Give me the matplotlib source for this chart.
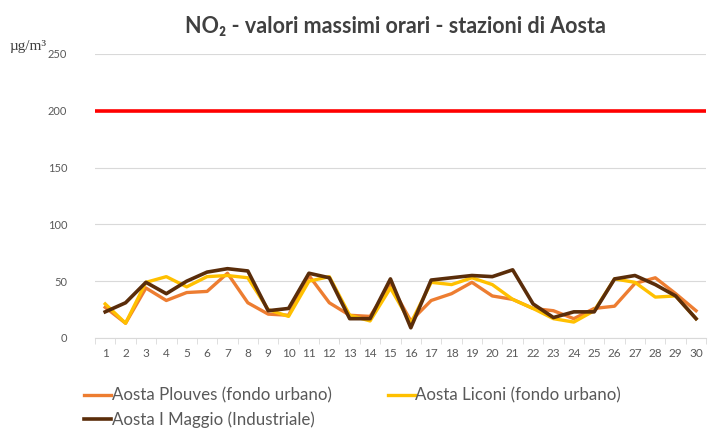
import numpy as np
from matplotlib import pyplot as plt

# days of the month
days = list(range(1, 31))

plouves = [27, 13, 44, 33, 40, 41, 57, 31, 21, 20, 55, 31, 20, 19, 47,
           15, 33, 39, 49, 37, 34, 26, 24, 17, 26, 28, 48, 53, 39, 24]
liconi = [30, 13, 49, 54, 45, 54, 55, 53, 25, 19, 50, 54, 20, 15, 44,
          13, 49, 47, 53, 47, 34, 26, 17, 14, 24, 52, 49, 36, 37, 17]
maggio = [23, 31, 49, 39, 50, 58, 61, 59, 24, 26, 57, 53, 17, 17, 52,
          9, 51, 53, 55, 54, 60, 30, 18, 23, 23, 52, 55, 47, 37, 17]
limit_value = 200

series_names = ['Aosta Plouves (fondo urbano)', 'Aosta Liconi (fondo urbano)',
                'Aosta I Maggio (Industriale)']
series_colors = ['#ED7D31', '#FFC000', '#5A2D0A']

plt.rcParams['font.family'] = ['Lato', 'DejaVu Sans']

fig = plt.figure(figsize=(7.17, 4.36), dpi=100)
ax = fig.add_axes([0.1325, 0.2248, 0.8525, 0.6514])

ax.plot([0.5, 30.5], [limit_value, limit_value], color='#FF0000', linewidth=2.6,
        solid_capstyle='butt', zorder=3)
lines = []
for vals, name, col in zip([plouves, liconi, maggio], series_names, series_colors):
    ln, = ax.plot(days, vals, color=col, linewidth=2.4 if col != '#5A2D0A' else 2.6,
                  label=name, zorder=4)
    lines.append(ln)

ax.set_xlim(0.5, 30.5)
ax.set_ylim(0, 250)
ax.set_yticks(range(0, 251, 50))
ax.set_xticks(days)
ax.set_xticks(np.arange(0.5, 31, 1), minor=True)
ax.grid(axis='y', color='#D9D9D9', linewidth=0.8)
ax.set_axisbelow(True)

for s in ['top', 'right', 'left']:
    ax.spines[s].set_visible(False)
ax.spines['bottom'].set_color('#D9D9D9')
ax.tick_params(axis='y', length=0, labelsize=8, labelcolor='#595959', pad=20)
ax.tick_params(axis='x', which='major', length=0, labelsize=8.5, labelcolor='#595959', pad=7)
ax.tick_params(axis='x', which='minor', length=4, color='#D9D9D9', direction='out')

fig.text(0.552, 0.94, 'NO₂ - valori massimi orari - stazioni di Aosta',
         ha='center', va='center', fontsize=15.5, fontweight='bold', color='#404040')
fig.text(0.014, 0.893, 'µg/m³', fontsize=11, family='Liberation Serif',
         color='#404040', va='center')

# row-wise order: Plouves, Liconi / Maggio
order = [0, 2, 1]
fig.legend([lines[i] for i in order], [series_names[i] for i in order],
           loc='upper left', bbox_to_anchor=(0.105, 0.13), ncol=2, frameon=False,
           fontsize=12.2, handlelength=1.6, handletextpad=0.05, columnspacing=3.3,
           labelspacing=0.45, borderpad=0, labelcolor='#595959')

fig.savefig('out.png', dpi=100)
